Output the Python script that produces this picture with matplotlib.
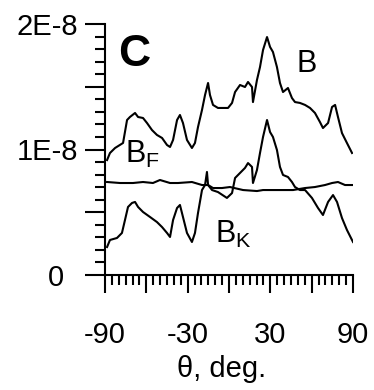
import numpy as np
import matplotlib
matplotlib.use("Agg")
import matplotlib.pyplot as plt
from matplotlib.ticker import MultipleLocator

plt.rcParams['font.family'] = ['Liberation Sans', 'DejaVu Sans']
plt.rcParams['axes.unicode_minus'] = False
plt.rcParams['mathtext.fontset'] = 'custom'
plt.rcParams['mathtext.rm'] = 'Liberation Sans'

# angle (deg) and magnitude in units of 1E-8
theta_b = [-88.5, -86.4, -82.7, -76.9, -74.0, -71.9, -68.2, -66.0, -62.4, -59.5,
           -55.9, -52.3, -48.6, -45.0, -42.8, -40.6, -37.7, -35.6, -33.4, -30.5,
           -26.9, -24.7, -22.5, -19.6, -17.4, -15.2, -13.8, -11.6, -8.0, -4.4,
           -0.7, 2.2, 4.4, 8.0, 11.6, 13.8, 16.7, 17.4, 20.3, 22.5,
           24.7, 27.6, 29.8, 31.9, 34.8, 37.0, 39.2, 42.8, 45.7, 47.9,
           51.5, 55.2, 58.8, 62.4, 66.0, 68.2, 71.9, 74.8, 77.0, 79.1,
           82.0, 85.6, 89.3]
b_total = [0.916, 0.972, 1.012, 1.052, 1.235, 1.259, 1.291, 1.259, 1.251, 1.211,
           1.155, 1.116, 1.092, 1.036, 1.020, 1.076, 1.235, 1.275, 1.211, 1.076,
           1.012, 1.052, 1.179, 1.315, 1.434, 1.530, 1.434, 1.355, 1.331, 1.331,
           1.331, 1.371, 1.458, 1.514, 1.498, 1.538, 1.498, 1.378, 1.554, 1.657,
           1.793, 1.896, 1.817, 1.777, 1.657, 1.530, 1.458, 1.490, 1.410, 1.378,
           1.371, 1.355, 1.331, 1.291, 1.219, 1.171, 1.211, 1.339, 1.355, 1.259,
           1.131, 1.052, 0.972]

theta_f = [-88.5, -79.1, -69.7, -62.4, -55.2, -50.1, -42.8, -37.0, -26.9, -19.6,
           -15.2, -11.6, -5.1, 0.7, 10.2, 20.3, 24.7, 34.8, 46.5, 55.2,
           62.4, 69.7, 74.8, 79.1, 84.2, 90.0]
b_f = [0.741, 0.733, 0.733, 0.741, 0.733, 0.757, 0.733, 0.733, 0.741, 0.717,
       0.717, 0.693, 0.693, 0.701, 0.677, 0.669, 0.677, 0.677, 0.677, 0.693,
       0.701, 0.717, 0.733, 0.741, 0.717, 0.717]

theta_k = [-88.5, -86.4, -81.3, -77.7, -75.5, -73.3, -70.4, -68.2, -66.0, -62.4,
           -57.3, -52.3, -48.6, -45.0, -42.8, -40.6, -37.7, -35.6, -33.4, -30.5,
           -26.9, -24.7, -22.5, -19.6, -17.4, -16.0, -15.2, -12.3, -8.0, -1.5,
           2.2, 4.4, 8.0, 11.6, 13.8, 16.7, 17.4, 20.3, 22.5, 24.7,
           27.6, 29.8, 31.9, 34.8, 37.0, 39.2, 42.8, 45.7, 47.9, 51.5,
           55.2, 60.2, 64.6, 68.2, 71.9, 75.5, 78.4, 82.0, 85.6, 90.0]
b_k = [0.223, 0.279, 0.295, 0.335, 0.438, 0.542, 0.574, 0.582, 0.542, 0.502,
       0.462, 0.422, 0.382, 0.335, 0.303, 0.438, 0.534, 0.558, 0.462, 0.335,
       0.263, 0.335, 0.494, 0.677, 0.717, 0.821, 0.717, 0.677, 0.661, 0.614,
       0.653, 0.773, 0.813, 0.853, 0.892, 0.861, 0.733, 0.837, 0.972, 1.100,
       1.235, 1.139, 1.100, 0.996, 0.861, 0.797, 0.781, 0.741, 0.701, 0.677,
       0.677, 0.614, 0.534, 0.478, 0.582, 0.637, 0.582, 0.454, 0.359, 0.263]

unit = 1e-8
x_labelled = [-90, -30, 30, 90]
y_ticks = [0, 0.5e-8, 1e-8, 1.5e-8, 2e-8]
y_labels = ['0', '', '1E-8', '', '2E-8']

fig = plt.figure(figsize=(3.74, 3.9), dpi=100)
ax = fig.add_axes([105 / 374, 115 / 390, 248 / 374, 251 / 390])

for th, vals in [(theta_b, b_total), (theta_f, b_f), (theta_k, b_k)]:
    ax.plot(th, np.array(vals) * unit, color='black', lw=1.5)

ax.set_xlim(-90, 90)
ax.set_ylim(0, 2e-8)

for side in ['top', 'right']:
    ax.spines[side].set_visible(False)
for side in ['left', 'bottom']:
    ax.spines[side].set_linewidth(1.5)

# major ticks every 30 deg, labels only every 60
xt = np.arange(-90, 91, 30)
ax.set_xticks(xt, labels=[str(v) if v in x_labelled else '' for v in xt])
ax.xaxis.set_minor_locator(MultipleLocator(5))
ax.set_yticks(y_ticks, labels=y_labels)
ax.yaxis.set_minor_locator(MultipleLocator(0.1e-8))

ax.tick_params(axis='both', which='both', direction='out', width=1.5, labelsize=21)
ax.tick_params(axis='y', which='major', length=14.4, pad=5)
ax.tick_params(axis='y', which='minor', length=7.2)
ax.tick_params(axis='x', which='major', length=13, pad=20)
ax.tick_params(axis='x', which='minor', length=7.2)

# the "0" label sits further left than the others
ticks_y = ax.yaxis.get_major_ticks()
ticks_y[0].set_pad(15)

ax.set_xlabel('θ, deg.', fontsize=21)
ax.xaxis.set_label_coords(0.472, -0.32)

ax.text(0.052, 0.833, 'C', transform=ax.transAxes, fontsize=32,
        fontweight='bold', va='baseline')
ax.text(0.774, 0.809, 'B', transform=ax.transAxes, fontsize=22, va='baseline')
ax.text(0.081, 0.446, r'B$_{\rm F}$', transform=ax.transAxes, fontsize=22,
        va='baseline')
ax.text(0.444, 0.127, r'B$_{\rm K}$', transform=ax.transAxes, fontsize=22,
        va='baseline')

fig.savefig('out.png', dpi=100)
